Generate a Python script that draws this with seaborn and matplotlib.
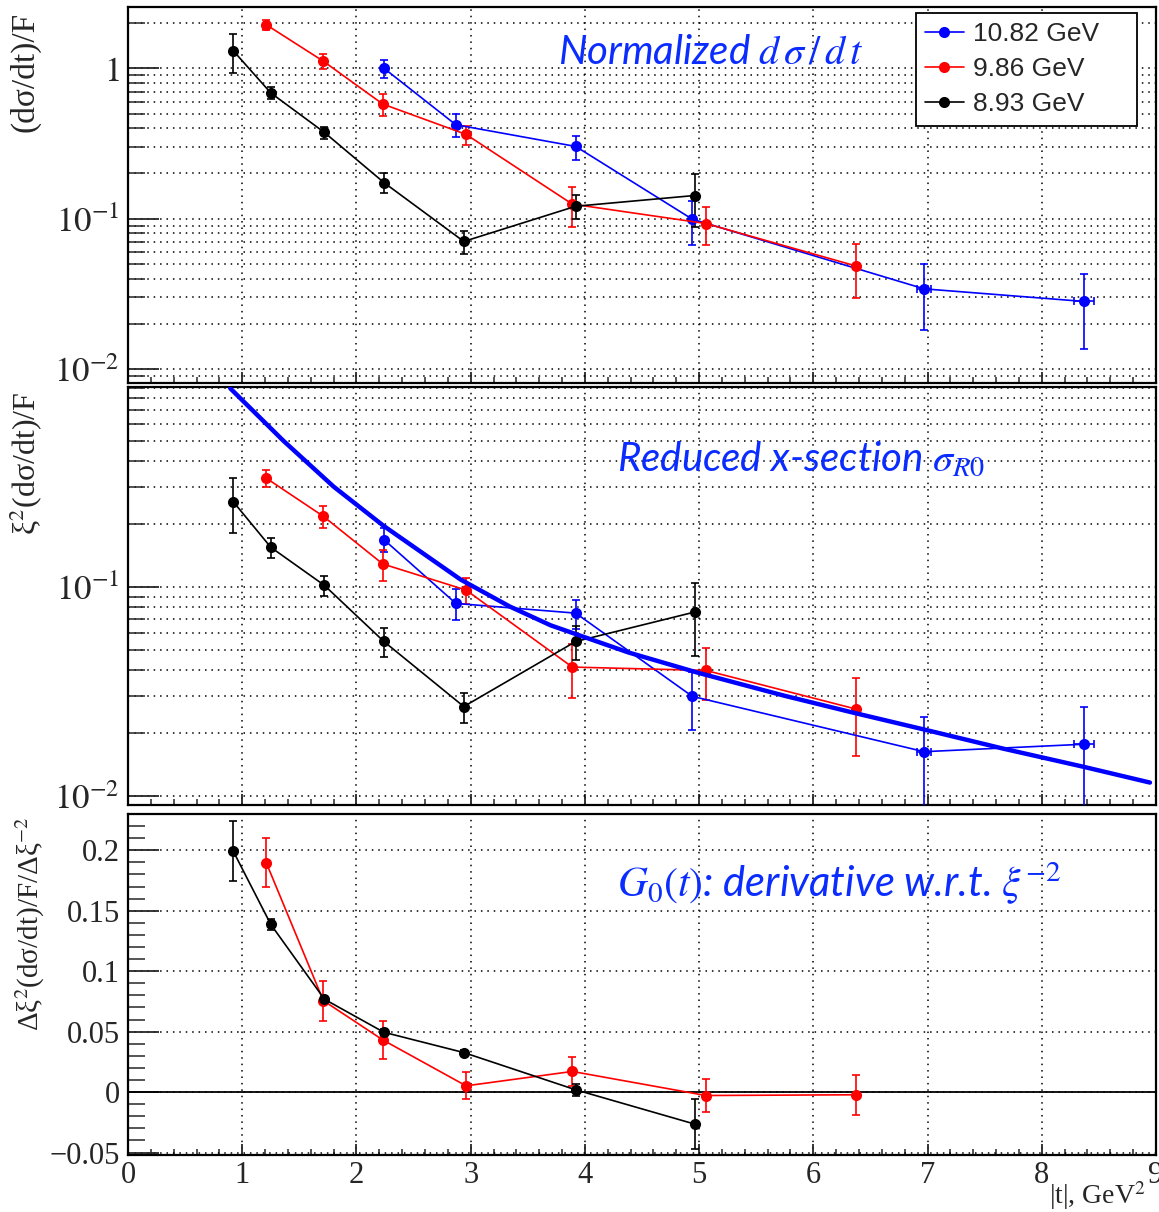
import numpy as np
import pandas as pd
import matplotlib
matplotlib.use("Agg")
import matplotlib.pyplot as plt
import matplotlib.ticker as mticker
import seaborn as sns

# ---------------- data ----------------
labels = ["10.82 GeV", "9.86 GeV", "8.93 GeV"]
colors = ["#0000ff", "#ff0000", "#000000"]

t_1082 = [2.24, 2.87, 3.92, 4.94, 6.97, 8.37]
t_986 = [1.21, 1.71, 2.23, 2.96, 3.89, 5.06, 6.37]
t_893 = [0.92, 1.25, 1.72, 2.24, 2.94, 3.92, 4.96]
terr_1082 = [0, 0, 0, 0, 0.06, 0.09]

# panel 1: normalized dsigma/dt
ds_1082 = [1.00, 0.421, 0.302, 0.0993, 0.0342, 0.0282]
ds_1082_err = [0.14, 0.073, 0.055, 0.032, 0.016, 0.0145]
ds_986 = [1.945, 1.113, 0.578, 0.363, 0.125, 0.0929, 0.0486]
ds_986_err = [0.15, 0.13, 0.10, 0.053, 0.037, 0.026, 0.019]
ds_893 = [1.31, 0.685, 0.374, 0.174, 0.0706, 0.121, 0.1426]
ds_893_err = [0.38, 0.065, 0.035, 0.026, 0.012, 0.022, 0.055]

# panel 2: reduced cross section
rs_1082 = [0.1687, 0.0835, 0.075, 0.0300, 0.0163, 0.0177]
rs_1082_err = [0.022, 0.014, 0.012, 0.0092, 0.0075, 0.009]
rs_986 = [0.332, 0.218, 0.129, 0.0967, 0.0414, 0.0399, 0.0261]
rs_986_err = [0.031, 0.026, 0.022, 0.014, 0.012, 0.011, 0.0106]
rs_893 = [0.2566, 0.155, 0.1018, 0.0549, 0.0268, 0.0549, 0.0759]
rs_893_err = [0.075, 0.017, 0.011, 0.0085, 0.0044, 0.010, 0.029]

# fitted curve sigma_R0
fit_t = [0.895, 1.362, 1.801, 2.239, 2.912, 3.342, 3.70, 4.383, 4.997, 5.746,
         6.37, 6.972, 7.654, 8.366, 8.947]
fit_s = [0.893, 0.500, 0.302, 0.196, 0.1086, 0.0807, 0.0656, 0.0486, 0.0388, 0.0302,
         0.0249, 0.0208, 0.0169, 0.0138, 0.0116]

# panel 3: derivative G0(t)
g_986 = [0.1898, 0.0757, 0.0432, 0.0052, 0.0171, -0.0028, -0.0022]
g_986_err = [0.020, 0.0165, 0.0157, 0.0113, 0.0117, 0.0133, 0.0164]
g_893 = [0.1995, 0.1387, 0.0768, 0.0495, 0.0327, 0.0019, -0.0264]
g_893_err = [0.025, 0.0045, 0.003, 0.003, 0.002, 0.005, 0.021]

x_ticks = [0, 1, 2, 3, 4, 5, 6, 7, 8, 9]
g_ticks = [-0.05, 0, 0.05, 0.1, 0.15, 0.2]
g_ticklabels = ["\u22120.05", "0", "0.05", "0.1", "0.15", "0.2"]

# ---------------- style ----------------
sns.set_theme(style="white")
plt.rcParams["font.family"] = ["Liberation Serif", "DejaVu Serif"]
plt.rcParams["mathtext.fontset"] = "stix"
plt.rcParams["axes.linewidth"] = 1.5

W, H = 1159, 1212
fig = plt.figure(figsize=(W / 100, H / 100), dpi=100)


def fax(l, t, r, b):
    return fig.add_axes([l / W, 1 - b / H, (r - l) / W, (b - t) / H])


ax1 = fax(128, 7, 1156, 383)
ax2 = fax(128, 387, 1156, 805)
ax3 = fax(128, 814, 1156, 1155)

GRID = dict(color="black", linestyle=(0, (1, 3.2)), linewidth=1.1)
MS = 8
TXT_BLUE = "#0a2cff"


def draw_series(ax, xs, ys, es, color, label=None, xerr=None):
    sns.lineplot(x=xs, y=ys, ax=ax, color=color, marker="o", markersize=MS,
                 markeredgewidth=0, linewidth=1.2, sort=False, label=label,
                 legend=False, zorder=4)
    ax.errorbar(xs, ys, yerr=es, xerr=xerr, fmt="none", ecolor=color,
                elinewidth=1.2, capsize=3.2, capthick=1.2, zorder=3)


def style_axes(ax, log=True, xlabels=False):
    ax.set_xlim(0, 9)
    ax.xaxis.set_major_locator(mticker.FixedLocator(x_ticks))
    ax.xaxis.set_minor_locator(mticker.MultipleLocator(0.2))
    ax.tick_params(axis="x", which="major", direction="in", length=8, width=1.3,
                   top=False, bottom=True, labelbottom=xlabels, labelsize=22, pad=4)
    ax.tick_params(axis="x", which="minor", direction="in", length=4.5, width=1.1,
                   top=False, bottom=True)
    ax.tick_params(axis="y", which="major", direction="in", length=22, width=1.3,
                   left=True, right=False, labelsize=25, pad=6)
    ax.tick_params(axis="y", which="minor", direction="in", length=12, width=1.1,
                   left=True, right=False)
    ax.grid(False)
    ax.xaxis.grid(True, which="major", **GRID)
    if log:
        ax.yaxis.grid(True, which="both", **GRID)
    else:
        ax.yaxis.grid(True, which="major", **GRID)
    for s in ax.spines.values():
        s.set_linewidth(1.6)
        s.set_color("black")
    ax.set_axisbelow(True)


# ---------- panel 1 ----------
ax1.set_yscale("log")
ax1.set_ylim(0.0081, 2.55)
draw_series(ax1, t_1082, ds_1082, ds_1082_err, colors[0], labels[0], xerr=terr_1082)
draw_series(ax1, t_986, ds_986, ds_986_err, colors[1], labels[1])
draw_series(ax1, t_893, ds_893, ds_893_err, colors[2], labels[2])
style_axes(ax1)
ax1.yaxis.set_major_locator(mticker.FixedLocator([0.01, 0.1, 1]))
ax1.yaxis.set_major_formatter(mticker.FixedFormatter([r"$10^{-2}$", r"$10^{-1}$", r"$1$"]))
ax1.yaxis.set_minor_locator(mticker.LogLocator(base=10, subs=np.arange(2, 10), numticks=20))
ax1.yaxis.set_minor_formatter(mticker.NullFormatter())

leg = ax1.legend(loc="upper left", bbox_to_anchor=(916 / W, 1 - 135 / H, 221 / W, 122 / H),
                 bbox_transform=fig.transFigure, mode="expand", frameon=True, fancybox=False,
                 prop={"family": "Liberation Sans", "size": 19}, handlelength=1.45,
                 handletextpad=0.35, labelspacing=0.42, borderpad=0.35,
                 borderaxespad=0, numpoints=1)
leg.get_frame().set_edgecolor("black")
leg.get_frame().set_linewidth(1.3)
leg.get_frame().set_alpha(1)

ax1.text(558 / W, 1 - 52 / H, r"Normalized $d\,\sigma\,/\,d\,t$", transform=fig.transFigure,
         color=TXT_BLUE, fontsize=29, family="Lato", style="italic",
         ha="left", va="center", zorder=6)

# ---------- panel 2 ----------
ax2.set_yscale("log")
ax2.set_ylim(0.00906, 0.906)
sns.lineplot(x=fit_t, y=fit_s, ax=ax2, color="#0000ff", linewidth=3.2, sort=False,
             legend=False, zorder=5)
draw_series(ax2, t_1082, rs_1082, rs_1082_err, colors[0], xerr=terr_1082)
draw_series(ax2, t_986, rs_986, rs_986_err, colors[1])
draw_series(ax2, t_893, rs_893, rs_893_err, colors[2])
style_axes(ax2)
ax2.yaxis.set_major_locator(mticker.FixedLocator([0.01, 0.1]))
ax2.yaxis.set_major_formatter(mticker.FixedFormatter([r"$10^{-2}$", r"$10^{-1}$"]))
ax2.yaxis.set_minor_locator(mticker.LogLocator(base=10, subs=np.arange(2, 10), numticks=20))
ax2.yaxis.set_minor_formatter(mticker.NullFormatter())

ax2.text(617 / W, 1 - 459 / H, r"Reduced x-section $\sigma_{R0}$", transform=fig.transFigure,
         color=TXT_BLUE, fontsize=29, family="Lato", style="italic",
         ha="left", va="center", zorder=6)

# ---------- panel 3 ----------
ax3.set_ylim(-0.052, 0.23)
ax3.axhline(0, color="black", linewidth=1.3, zorder=2)
draw_series(ax3, t_986, g_986, g_986_err, colors[1])
draw_series(ax3, t_893, g_893, g_893_err, colors[2])
style_axes(ax3, log=False, xlabels=True)
ax3.yaxis.set_major_locator(mticker.FixedLocator(g_ticks))
ax3.yaxis.set_major_formatter(mticker.FixedFormatter(g_ticklabels))
ax3.yaxis.set_minor_locator(mticker.MultipleLocator(0.01))
ax3.tick_params(axis="y", which="major", labelsize=22)
ax3.set_xticklabels([str(v) for v in x_ticks])

ax3.text(617 / W, 1 - 884 / H, r"$G_0(t)$: derivative w.r.t. $\xi^{-2}$",
         transform=fig.transFigure, color=TXT_BLUE, fontsize=30, family="Lato",
         style="italic", ha="left", va="center", zorder=6)

# ---------- axis titles ----------
fig.text(25 / W, 1 - 12 / H, "(d\u03c3/dt)/F", rotation=90, ha="center", va="top", fontsize=24)
fig.text(26 / W, 1 - 392 / H, "\u03be$^2$(d\u03c3/dt)/F", rotation=90, ha="center", va="top", fontsize=23)
fig.text(30 / W, 1 - 817 / H, "\u0394\u03be$^2$(d\u03c3/dt)/F/\u0394\u03be$^{-2}$", rotation=90,
         ha="center", va="top", fontsize=21)
fig.text(1146 / W, 1 - 1204 / H, "|t|, GeV$^2$", ha="right", va="baseline", fontsize=20)

fig.savefig("out.png", dpi=100)
